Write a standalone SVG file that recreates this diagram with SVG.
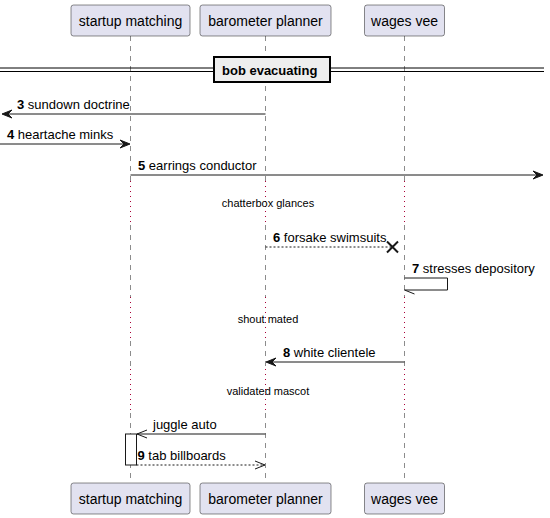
<svg xmlns="http://www.w3.org/2000/svg" width="550" height="518" viewBox="0 0 550 518">
<style>
.pbox{fill:#E2E2F0;stroke:#181818;stroke-width:0.5}
.ptxt{font-family:"Liberation Sans",Arial,sans-serif;font-size:14px;fill:#000;text-anchor:middle}
.life{stroke:#181818;stroke-width:0.5;stroke-dasharray:5,5;fill:none}
.delay{stroke:#A80036;stroke-width:1;stroke-dasharray:1,4;fill:none}
.msg{stroke:#181818;stroke-width:1;fill:none}
.dash{stroke:#181818;stroke-width:1;stroke-dasharray:2,2;fill:none}
.head{fill:#181818;stroke:#181818;stroke-width:1}
.mtxt{font-family:"Liberation Sans",Arial,sans-serif;font-size:13px;fill:#000}
.dtxt{font-family:"Liberation Sans",Arial,sans-serif;font-size:11px;fill:#000;text-anchor:middle}
.b{font-weight:bold}
</style>
<g id="lifelines">
<path class="life" d="M130.5,36V181M130.5,225V297M130.5,341V369M130.5,413V483"/>
<path class="life" d="M265.5,36V181M265.5,225V297M265.5,341V369M265.5,413V483"/>
<path class="life" d="M404.5,36V181M404.5,225V297M404.5,341V369M404.5,413V483"/>
<path class="delay" d="M130.5,181V225M265.5,181V225M404.5,181V225M130.5,297V341M265.5,297V341M404.5,297V341M130.5,369V413M265.5,369V413M404.5,369V413"/>
</g>
<g id="startup-matching">
<rect class="pbox" x="71" y="5" width="119" height="31" rx="2.5"/>
<text class="ptxt" x="130.5" y="25.5">startup matching</text>
<rect class="pbox" x="71" y="483" width="119" height="31" rx="2.5"/>
<text class="ptxt" x="130.5" y="503.5">startup matching</text>
</g>
<g id="barometer-planner">
<rect class="pbox" x="200" y="5" width="131" height="31" rx="2.5"/>
<text class="ptxt" x="265.5" y="25.5">barometer planner</text>
<rect class="pbox" x="200" y="483" width="131" height="31" rx="2.5"/>
<text class="ptxt" x="265.5" y="503.5">barometer planner</text>
</g>
<g id="wages-vee">
<rect class="pbox" x="364.5" y="5" width="80" height="31" rx="2.5"/>
<text class="ptxt" x="404.5" y="25.5">wages vee</text>
<rect class="pbox" x="364.5" y="483" width="80" height="31" rx="2.5"/>
<text class="ptxt" x="404.5" y="503.5">wages vee</text>
</g>
<g id="divider">
<line x1="0" y1="68" x2="544" y2="68" stroke="#000" stroke-width="1"/>
<line x1="0" y1="71.5" x2="544" y2="71.5" stroke="#000" stroke-width="1"/>
<rect x="214" y="57" width="116" height="25" fill="#EEEEEE" stroke="#000" stroke-width="2"/>
<text class="mtxt b" x="222" y="75">bob evacuating</text>
</g>
<g id="activation">
<rect x="125.5" y="434" width="11" height="31" fill="#FFFFFF" stroke="#181818" stroke-width="1"/>
</g>
<g id="connectors">
<line class="msg" x1="265.5" y1="114" x2="4" y2="114"/>
<polygon class="head" points="12,110 2,114 12,118 8,114"/>
<text class="mtxt" x="17" y="109"><tspan class="b">3</tspan> sundown doctrine</text>
<line class="msg" x1="0" y1="144" x2="128" y2="144"/>
<polygon class="head" points="120,140 130,144 120,148 124,144"/>
<text class="mtxt" x="7" y="139"><tspan class="b">4</tspan> heartache minks</text>
<line class="msg" x1="130.5" y1="175" x2="541" y2="175"/>
<polygon class="head" points="533,171 543,175 533,179 537,175"/>
<text class="mtxt" x="138" y="170"><tspan class="b">5</tspan> earrings conductor</text>
<text class="dtxt" x="268" y="207">chatterbox glances</text>
<line class="dash" x1="265.5" y1="247" x2="392.5" y2="247"/>
<path d="M387,241.5L398,252.5M387,252.5L398,241.5" stroke="#181818" stroke-width="2" fill="none"/>
<text class="mtxt" x="273" y="242"><tspan class="b">6</tspan> forsake swimsuits</text>
<polyline class="msg" points="404.5,278 447.5,278 447.5,290 404.5,290"/>
<line class="msg" x1="404.5" y1="290" x2="414.5" y2="294"/>
<text class="mtxt" x="412" y="273"><tspan class="b">7</tspan> stresses depository</text>
<text class="dtxt" x="268" y="323">shout mated</text>
<line class="msg" x1="404.5" y1="362" x2="268" y2="362"/>
<polygon class="head" points="276,358 266,362 276,366 272,362"/>
<text class="mtxt" x="283" y="357"><tspan class="b">8</tspan> white clientele</text>
<text class="dtxt" x="268" y="395">validated mascot</text>
<line class="msg" x1="265.5" y1="434" x2="137" y2="434"/>
<path class="msg" d="M147,430L137,434L147,438"/>
<text class="mtxt" x="153" y="429">juggle auto</text>
<line class="dash" x1="136.5" y1="465" x2="265" y2="465"/>
<path class="msg" d="M255,461L265,465L255,469"/>
<text class="mtxt" x="137.5" y="460"><tspan class="b">9</tspan> tab billboards</text>
</g>
</svg>
